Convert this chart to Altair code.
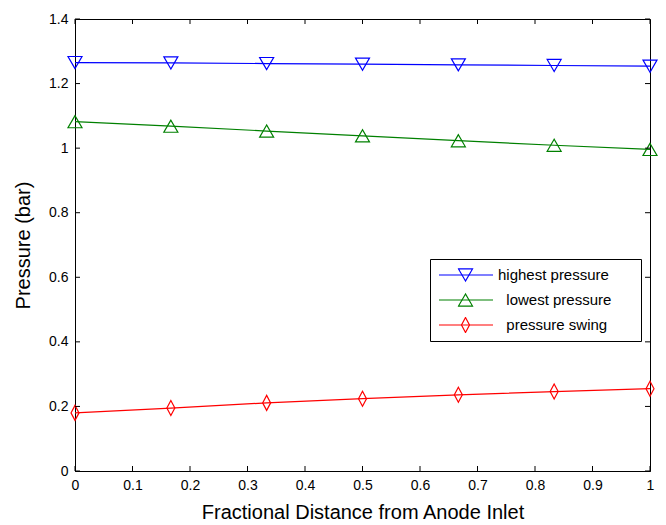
import altair as alt
import pandas as pd

# ---- data ----
x_vals = [0.0, 0.1667, 0.3333, 0.5, 0.6667, 0.8333, 1.0]
highest = [1.265, 1.264, 1.262, 1.260, 1.258, 1.256, 1.254]
lowest = [1.082, 1.068, 1.053, 1.038, 1.023, 1.009, 0.996]
swing = [0.180, 0.195, 0.211, 0.224, 0.236, 0.246, 0.255]

series_names = ["highest pressure", "lowest pressure", "pressure swing"]
series_colors = ["#0000ff", "#008000", "#ff0000"]
series_shapes = [
    "triangle-down",
    "triangle-up",
    "M0,-1.07L0.57,0L0,1.07L-0.57,0Z",
]

x_ticks = [0, 0.1, 0.2, 0.3, 0.4, 0.5, 0.6, 0.7, 0.8, 0.9, 1.0]
y_ticks = [0, 0.2, 0.4, 0.6, 0.8, 1.0, 1.2, 1.4]

rows = []
for name, vals in zip(series_names, [highest, lowest, swing]):
    for xv, yv in zip(x_vals, vals):
        rows.append({"x": xv, "y": yv, "series": name, "series2": name})
df = pd.DataFrame(rows)
xt = pd.DataFrame({"x": x_ticks})
yt = pd.DataFrame({"y": y_ticks})

W, H = 575, 452
FONT = "Liberation Sans"
XTITLE = "Fractional Distance from Anode Inlet"
YTITLE = "Pressure (bar)"

xscale = alt.Scale(domain=[0, 1], nice=False, zero=False)
yscale = alt.Scale(domain=[0, 1.4], nice=False, zero=False)

x_axis = alt.Axis(
    values=x_ticks, format=".1~f", ticks=False, grid=False, labelFlush=False,
    labelFontSize=14, labelColor="black", labelPadding=7,
    domainColor="black", titleFontSize=20, titleFontWeight="normal",
    titleColor="black", titlePadding=10,
)
y_axis = alt.Axis(
    values=y_ticks, format=".1~f", ticks=False, grid=False, labelFlush=False,
    labelFontSize=14, labelColor="black", labelPadding=7,
    domainColor="black", titleFontSize=20, titleFontWeight="normal",
    titleColor="black", titlePadding=15,
)

# MATLAB-style legend: the last two entries are slightly indented, and the box
# extends past the text. Zero-width spaces keep the padding from being trimmed.
ZW = "\u200b"
NB = "\u00a0"
label_expr = (
    "'" + ZW + "' + (datum.label == 'highest pressure' ? '' : '" + NB + NB + "')"
    " + datum.label + '" + NB * 5 + ZW + "'"
)

line_legend = alt.Legend(
    orient="none", legendX=355, legendY=240, title=None,
    symbolType="stroke", symbolSize=2916, symbolStrokeWidth=1.2,
    labelFontSize=15, labelColor="black", labelOffset=4, labelLimit=300,
    labelExpr=label_expr,
    padding=8, strokeColor="black", clipHeight=16, rowPadding=9, zindex=0,
)
shape_legend = alt.Legend(
    orient="none", legendX=374.5, legendY=240, title=None,
    symbolSize=196, symbolStrokeWidth=1.2, labelExpr="''",
    labelFontSize=15, labelOffset=4, padding=8, clipHeight=16,
    rowPadding=9, zindex=1,
)

base = alt.Chart(df)

lines = base.mark_line(strokeWidth=1.2).encode(
    x=alt.X("x:Q", scale=xscale, axis=x_axis, title=XTITLE),
    y=alt.Y("y:Q", scale=yscale, axis=y_axis, title=YTITLE),
    color=alt.Color("series:N", scale=alt.Scale(domain=series_names, range=series_colors),
                    legend=line_legend),
    detail="series:N",
)

points = base.mark_point(filled=False, size=196, strokeWidth=1.2, opacity=1).encode(
    x=alt.X("x:Q", scale=xscale, title=XTITLE),
    y=alt.Y("y:Q", scale=yscale, title=YTITLE),
    stroke=alt.Stroke("series2:N", scale=alt.Scale(domain=series_names, range=series_colors),
                      legend=shape_legend),
    shape=alt.Shape("series2:N", scale=alt.Scale(domain=series_names, range=series_shapes),
                    legend=shape_legend),
)

tick_style = dict(color="black", strokeWidth=1)
xt_bottom = alt.Chart(xt).mark_rule(**tick_style).encode(
    x=alt.X("x:Q", scale=xscale, title=XTITLE), y=alt.value(H), y2=alt.value(H - 5))
xt_top = alt.Chart(xt).mark_rule(**tick_style).encode(
    x=alt.X("x:Q", scale=xscale, title=XTITLE), y=alt.value(0), y2=alt.value(5))
yt_left = alt.Chart(yt).mark_rule(**tick_style).encode(
    y=alt.Y("y:Q", scale=yscale, title=YTITLE), x=alt.value(0), x2=alt.value(5))
yt_right = alt.Chart(yt).mark_rule(**tick_style).encode(
    y=alt.Y("y:Q", scale=yscale, title=YTITLE), x=alt.value(W), x2=alt.value(W - 5))

chart = alt.layer(lines, points, xt_bottom, xt_top, yt_left, yt_right).properties(
    width=W, height=H,
    autosize=alt.AutoSizeParams(type="none"),
    padding={"left": 75, "top": 19, "right": 16, "bottom": 54},
    background="white",
).resolve_scale(
    color="independent", stroke="independent", shape="independent"
).configure(font=FONT).configure_view(
    stroke="black", strokeWidth=1
)

chart.save("out.html", embed_options={"renderer": "svg", "actions": False})
